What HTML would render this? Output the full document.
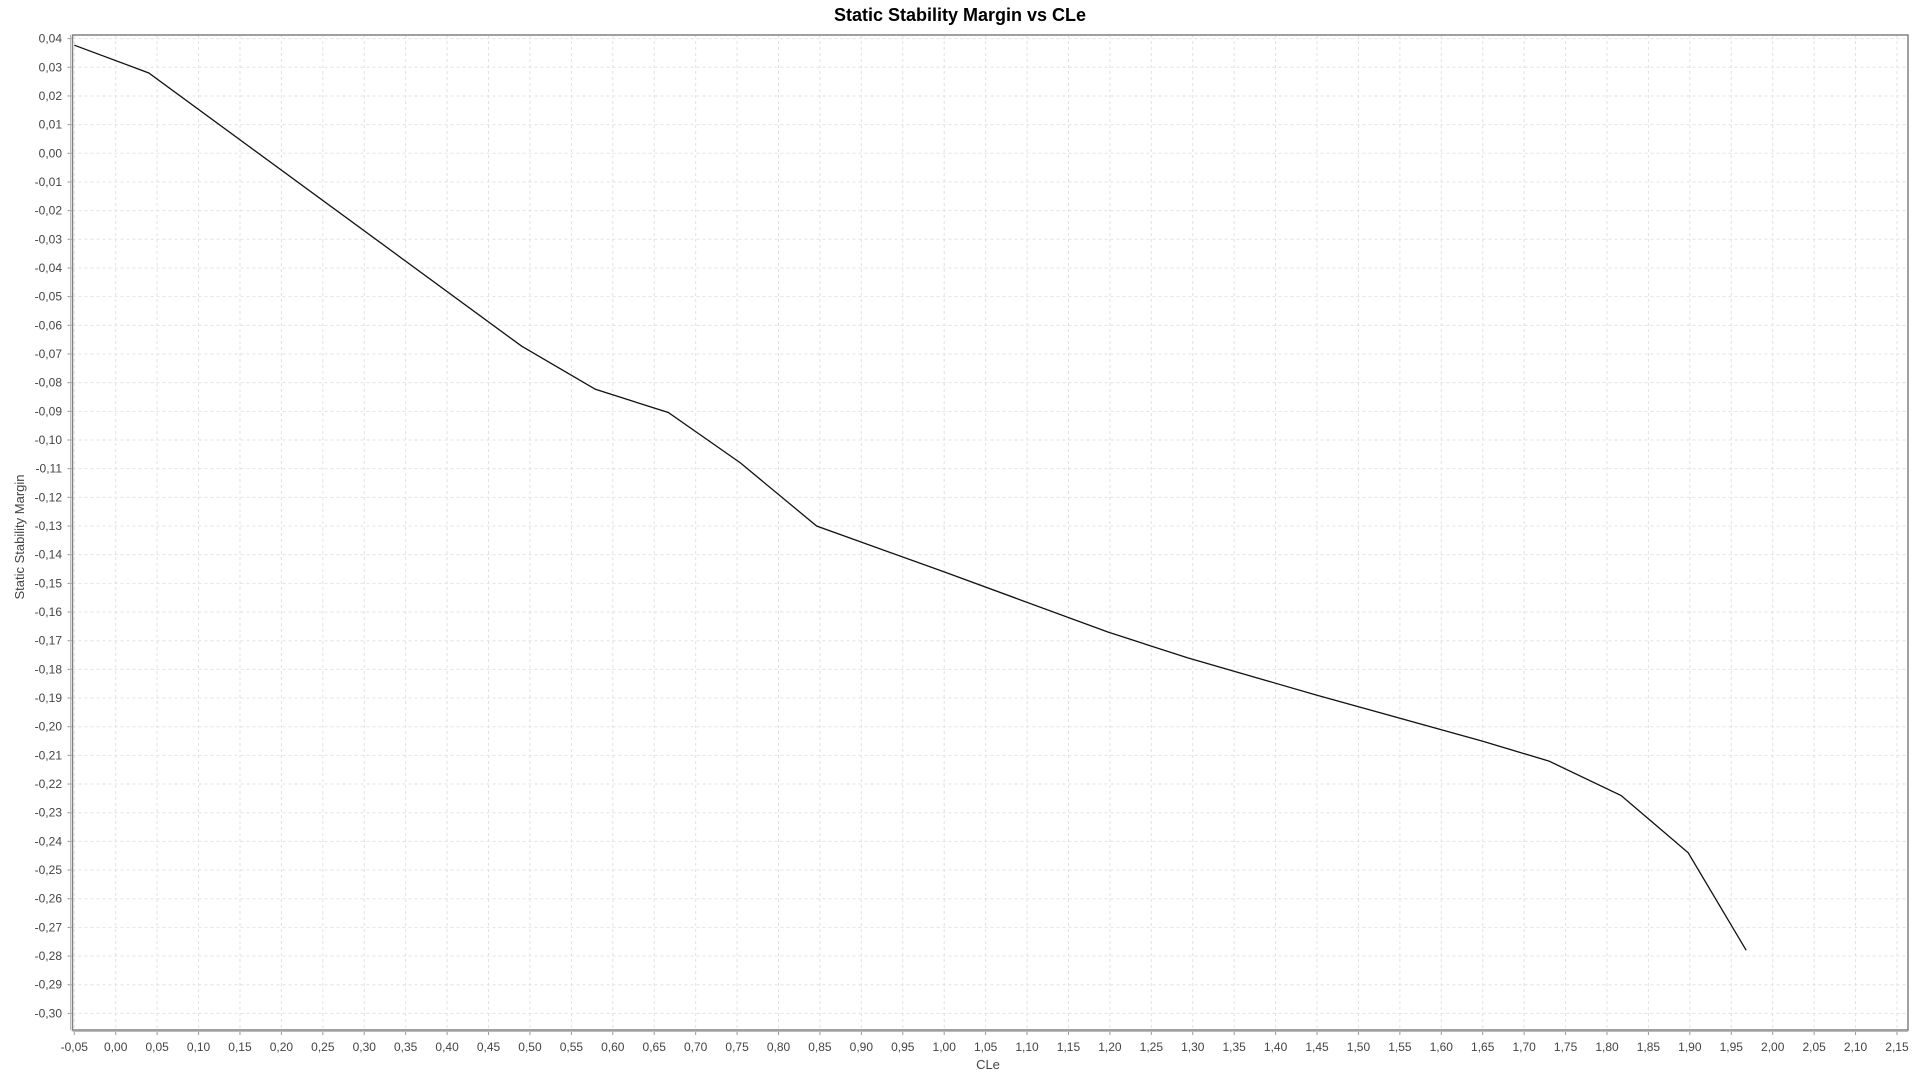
<!DOCTYPE html>
<html><head><meta charset="utf-8"><style>
body{margin:0;background:#fff;}
svg{display:block;font-family:"Liberation Sans","DejaVu Sans",sans-serif;}
</style></head><body>
<svg id="chart" width="1920" height="1080" xmlns="http://www.w3.org/2000/svg">
<text x="960" y="21" text-anchor="middle" font-size="18" font-weight="bold" fill="#000">Static Stability Margin vs CLe</text>
<text x="988" y="1069" text-anchor="middle" font-size="13" fill="#444">CLe</text>
<text transform="translate(24,537) rotate(-90)" text-anchor="middle" font-size="13" fill="#444">Static Stability Margin</text>
<g id="grid"></g>
<g id="axes"></g>
<g id="series"></g>
</svg>
<script>
const xValues=[-0.05,0.04,0.49,0.579,0.667,0.754,0.846,1.0,1.198,1.294,1.45,1.649,1.730,1.817,1.898,1.968];
const yValues=[0.0377,0.028,-0.0673,-0.0823,-0.0904,-0.108,-0.130,-0.146,-0.167,-0.176,-0.189,-0.205,-0.212,-0.224,-0.244,-0.278];
const xTicks=[];for(let i=-1;i<=43;i++)xTicks.push(i*0.05);
const yTicks=[];for(let i=4;i>=-30;i--)yTicks.push(i/100);
const L=72.5,R=1908,T=35,B=1030;
function sx(v){return 115.7+v*828.5;}
function sy(v){return 153.3-v*2867;}
const NS="http://www.w3.org/2000/svg";
function mk(t,a,p){const e=document.createElementNS(NS,t);for(const k in a)e.setAttribute(k,a[k]);p.appendChild(e);return e;}
const grid=document.getElementById('grid'),axes=document.getElementById('axes'),series=document.getElementById('series');
function fmt(v){let s=Math.abs(v).toFixed(2).replace('.',',');return (v<-1e-9?'-':'')+s;}
xTicks.forEach(v=>{const x=sx(v);
 const g=mk('line',{x1:x,x2:x,y1:T,y2:B,stroke:'#e2e2e2','stroke-dasharray':'3,3'},grid);
 
 
 const tk=mk('line',{x1:x,x2:x,y1:B+1,y2:B+5,stroke:'#999'},axes);
 
 
 const t=mk('text',{x:x,y:B+21,'text-anchor':'middle','font-size':12,fill:'#444'},axes);t.textContent=fmt(v);
 
 
});
yTicks.forEach(v=>{const y=sy(v);
 const g=mk('line',{x1:L,x2:R,y1:y,y2:y,stroke:'#e2e2e2','stroke-dasharray':'3,3'},grid);
 
 
 const tk=mk('line',{x1:L-5,x2:L-1,y1:y,y2:y,stroke:'#999'},axes);
 
 
 const t=mk('text',{x:62,y:y+4,'text-anchor':'end','font-size':12,fill:'#444'},axes);t.textContent=fmt(v);
 
 
});
const fr=mk('rect',{x:L,y:T,width:R-L,height:B-T,fill:'none',stroke:'#808080','stroke-width':1.5},axes);


const xa=mk('line',{x1:L,x2:R,y1:B+1.5,y2:B+1.5,stroke:'#bbb'},axes);


const ya=mk('line',{x1:L-2,x2:L-2,y1:T,y2:B,stroke:'#bbb'},axes);


const pts=xValues.map((v,i)=>sx(v).toFixed(1)+','+sy(yValues[i]).toFixed(1)).join(' ');
const pl=mk('polyline',{points:pts,fill:'none',stroke:'#111','stroke-width':1.3},series);


</script>
</body></html>
